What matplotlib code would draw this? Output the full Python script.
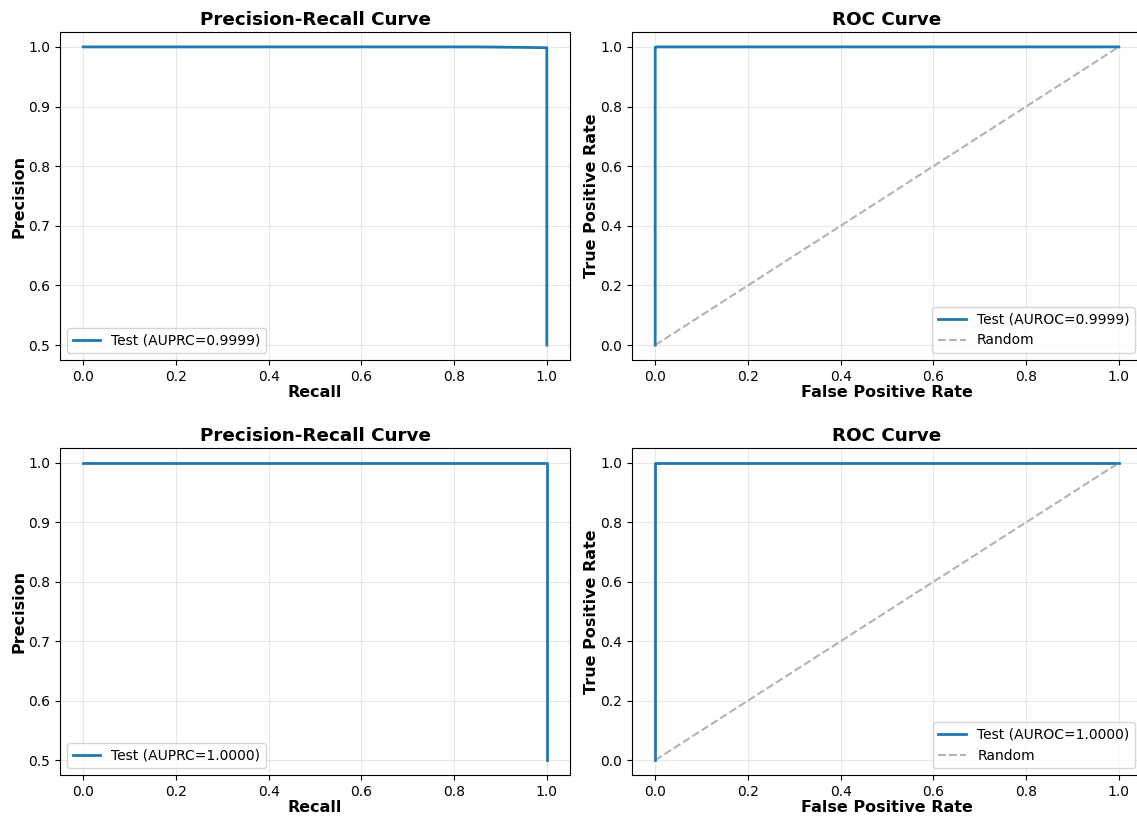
import matplotlib
matplotlib.use("Agg")
import matplotlib.pyplot as plt

# === Data
pr_recall_top = [0.0, 0.50, 0.85, 0.95, 1.0, 1.0]
pr_precision_top = [1.0, 1.0, 1.0, 0.9992, 0.9986, 0.5]
auprc_top = 0.9999

pr_recall_bot = [0.0, 1.0, 1.0]
pr_precision_bot = [1.0, 1.0, 0.5]
auprc_bot = 1.0000

roc_fpr_top = [0.0, 0.0, 0.002, 1.0]
roc_tpr_top = [0.0, 0.998, 1.0, 1.0]
auroc_top = 0.9999

roc_fpr_bot = [0.0, 0.0, 1.0]
roc_tpr_bot = [0.0, 1.0, 1.0]
auroc_bot = 1.0000

fig = plt.figure(figsize=(11.37, 8.18), dpi=100)

W, H = 1137, 818
def pos(l, t, r, b):
    return [l / W, 1 - b / H, (r - l) / W, (b - t) / H]

ax_pr1 = fig.add_axes(pos(60, 32, 570, 360))
ax_roc1 = fig.add_axes(pos(632, 32, 1142, 360))
ax_pr2 = fig.add_axes(pos(60, 448, 570, 775))
ax_roc2 = fig.add_axes(pos(632, 448, 1142, 775))

def style(ax, title, xlabel, ylabel):
    ax.set_title(title, fontsize=13.2, fontweight='bold', pad=5)
    ax.set_xlabel(xlabel, fontsize=11.5, fontweight='bold', labelpad=1)
    ax.set_ylabel(ylabel, fontsize=11.5, fontweight='bold', labelpad=1)
    ax.tick_params(labelsize=10)
    ax.grid(True, alpha=0.3)

# === Precision-Recall plots
for ax, rec, prec, auc in [(ax_pr1, pr_recall_top, pr_precision_top, auprc_top),
                           (ax_pr2, pr_recall_bot, pr_precision_bot, auprc_bot)]:
    ax.plot(rec, prec, linewidth=2, color='#1f77b4', label=f"Test (AUPRC={auc:.4f})")
    style(ax, "Precision-Recall Curve", "Recall", "Precision")
    ax.legend(loc='lower left', fontsize=10)

# === ROC plots
for ax, fpr, tpr, auc in [(ax_roc1, roc_fpr_top, roc_tpr_top, auroc_top),
                          (ax_roc2, roc_fpr_bot, roc_tpr_bot, auroc_bot)]:
    ax.plot(fpr, tpr, linewidth=2, color='#1f77b4', label=f"Test (AUROC={auc:.4f})")
    ax.plot([0, 1], [0, 1], '--', color='gray', alpha=0.6, label="Random")
    style(ax, "ROC Curve", "False Positive Rate", "True Positive Rate")
    ax.legend(loc='lower right', fontsize=10)

fig.savefig("out.png", dpi=100)
